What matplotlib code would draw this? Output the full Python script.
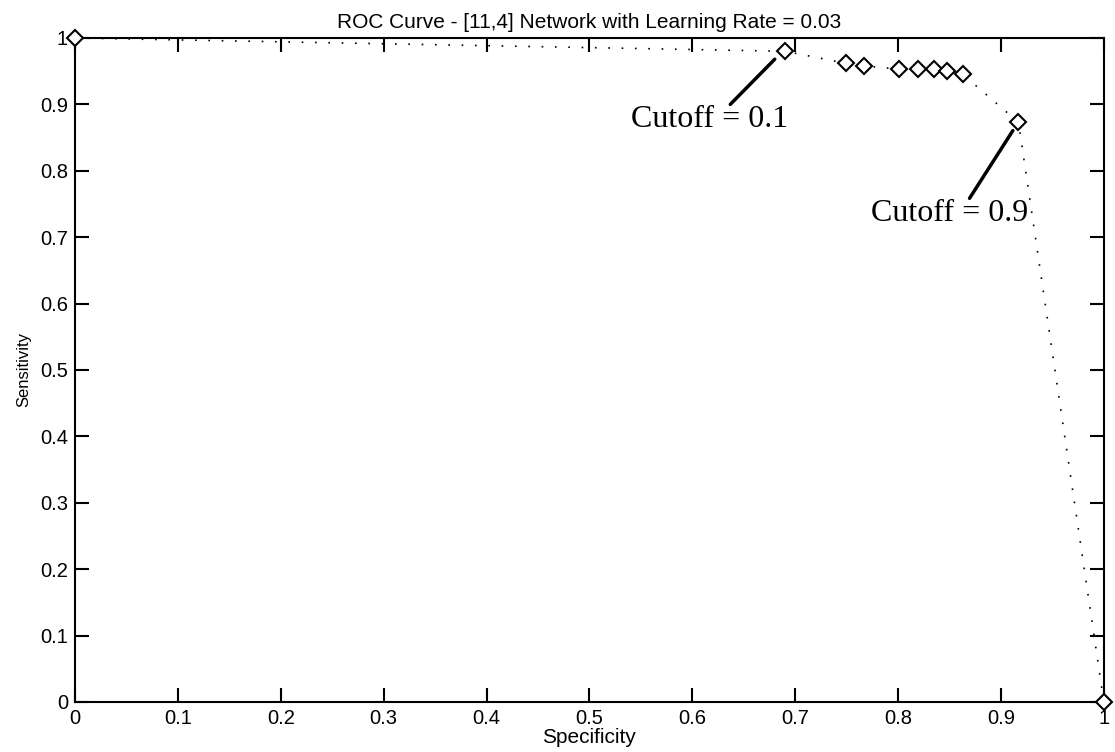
import numpy as np
import matplotlib.pyplot as plt

##Dados da curva ROC
especificidade = [0, 0.69, 0.749, 0.767, 0.801, 0.819, 0.835, 0.848, 0.863, 0.917, 1]
sensibilidade = [1, 0.98, 0.962, 0.958, 0.953, 0.953, 0.953, 0.950, 0.945, 0.873, 0]

ticks = np.arange(0, 11) / 10
tick_labels = ['0', '0.1', '0.2', '0.3', '0.4', '0.5', '0.6', '0.7', '0.8', '0.9', '1']

##Pontos de corte anotados
cortes = ['Cutoff = 0.1', 'Cutoff = 0.9']

plt.rcParams['font.family'] = ['Liberation Sans', 'DejaVu Sans']

fig = plt.figure(figsize=(11.15, 7.52), dpi=100)
ax = fig.add_axes([0.0673, 0.0665, 0.9227, 0.883])

ax.plot(especificidade, sensibilidade, color='black', linestyle=(0, (1, 7)), lw=1.2,
        marker='D', markersize=8.5, markerfacecolor='white', markeredgecolor='black',
        markeredgewidth=1.5, clip_on=False, zorder=3)

##Anotacoes (texto + linha ate o ponto)
ax.annotate('', xy=(0.682, 0.971), xytext=(0.635, 0.897),
            arrowprops=dict(arrowstyle='-', lw=2.5, color='black'))
ax.text(0.617, 0.877, cortes[0], family='Liberation Serif', fontsize=23,
        ha='center', va='center')
ax.annotate('', xy=(0.913, 0.864), xytext=(0.868, 0.755),
            arrowprops=dict(arrowstyle='-', lw=2.5, color='black'))
ax.text(0.850, 0.735, cortes[1], family='Liberation Serif', fontsize=23,
        ha='center', va='center')

ax.set_xlim(0, 1)
ax.set_ylim(0, 1)
ax.set_xticks(ticks)
ax.set_xticklabels(tick_labels)
ax.set_yticks(ticks)
ax.set_yticklabels(tick_labels)
ax.tick_params(direction='in', length=10, width=1.5, top=True, right=True,
               labelsize=14.5, pad=5)
for s in ax.spines.values():
    s.set_linewidth(1.5)

ax.set_title('ROC Curve - [11,4] Network with Learning Rate = 0.03', fontsize=15, pad=7)
ax.set_xlabel('Specificity', fontsize=15, labelpad=0)
ax.set_ylabel('Sensitivity', fontsize=12, labelpad=6)

plt.savefig('out.png', dpi=100)
